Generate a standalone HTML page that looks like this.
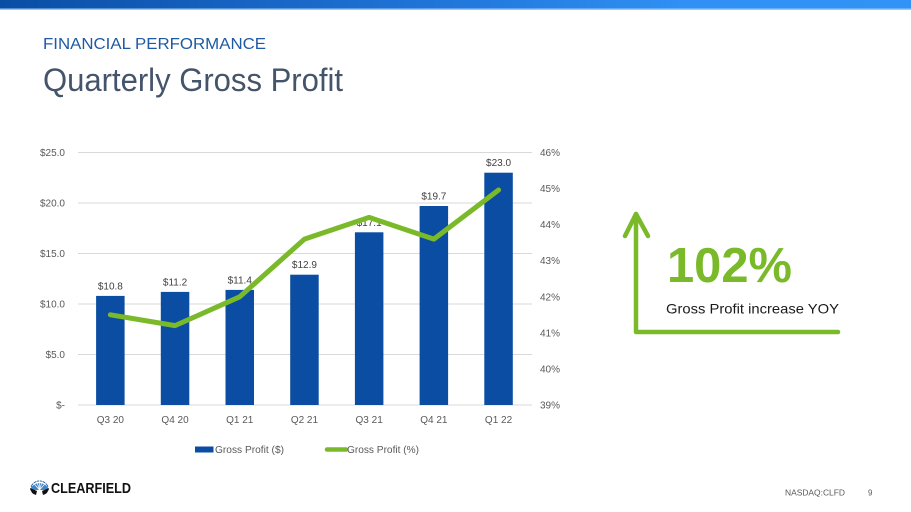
<!DOCTYPE html>
<html><head><meta charset="utf-8"><style>
html,body{margin:0;padding:0;background:#fff;}
svg{display:block;}
text{font-family:"Liberation Sans",Arial,sans-serif;}
</style></head><body>
<svg width="911" height="512" viewBox="0 0 911 512" xmlns="http://www.w3.org/2000/svg">
<defs>
<linearGradient id="tb" x1="0" x2="1" y1="0" y2="0">
<stop offset="0" stop-color="#0a4ea4"/>
<stop offset="0.45" stop-color="#1f72d6"/>
<stop offset="0.75" stop-color="#3090f5"/>
<stop offset="1" stop-color="#3192f7"/>
</linearGradient>
</defs>
<rect x="0" y="0" width="911" height="8.5" fill="url(#tb)"/>
<rect x="0" y="8.5" width="911" height="1.5" fill="#9ccbf2"/>

<text x="43" y="49" font-size="16" fill="#1f5aa6" textLength="223" lengthAdjust="spacingAndGlyphs">FINANCIAL PERFORMANCE</text>
<text x="43" y="91" font-size="32" fill="#44546a" textLength="300" lengthAdjust="spacingAndGlyphs">Quarterly Gross Profit</text>

<!-- gridlines -->
<g stroke="#d9d9d9" stroke-width="1">
<line x1="78" x2="532" y1="152.5" y2="152.5"/>
<line x1="78" x2="532" y1="203" y2="203"/>
<line x1="78" x2="532" y1="253.5" y2="253.5"/>
<line x1="78" x2="532" y1="304" y2="304"/>
<line x1="78" x2="532" y1="354.5" y2="354.5"/>
<line x1="78" x2="532" y1="405" y2="405"/>
</g>

<!-- left axis labels -->
<g font-size="10" fill="#595959" text-anchor="end">
<text x="65" y="156">$25.0</text>
<text x="65" y="206.5">$20.0</text>
<text x="65" y="257">$15.0</text>
<text x="65" y="307.5">$10.0</text>
<text x="65" y="358">$5.0</text>
<text x="65" y="408.5">$-</text>
</g>
<!-- right axis labels -->
<g font-size="10" fill="#595959">
<text x="540" y="156">46%</text>
<text x="540" y="192">45%</text>
<text x="540" y="228">44%</text>
<text x="540" y="264.2">43%</text>
<text x="540" y="300.3">42%</text>
<text x="540" y="336.4">41%</text>
<text x="540" y="372.4">40%</text>
<text x="540" y="408.5">39%</text>
</g>

<!-- bars -->
<g fill="#0b4da2">
<rect x="96.1" y="295.9" width="28.5" height="109.1"/>
<rect x="160.8" y="291.9" width="28.5" height="113.1"/>
<rect x="225.5" y="289.9" width="28.5" height="115.1"/>
<rect x="290.2" y="274.7" width="28.5" height="130.3"/>
<rect x="354.9" y="232.3" width="28.5" height="172.7"/>
<rect x="419.6" y="206.0" width="28.5" height="199.0"/>
<rect x="484.3" y="172.7" width="28.5" height="232.3"/>
</g>

<!-- data labels -->
<g font-size="10" fill="#404040" text-anchor="middle">
<text x="110.35" y="289.4">$10.8</text>
<text x="175.05" y="285.4">$11.2</text>
<text x="239.75" y="283.4">$11.4</text>
<text x="304.45" y="268.2">$12.9</text>
<text x="369.15" y="225.8">$17.1</text>
<text x="433.85" y="199.5">$19.7</text>
<text x="498.55" y="166.2">$23.0</text>
</g>

<!-- line -->
<polyline points="110.35,314.8 175.05,325.6 239.75,296.8 304.45,239.1 369.15,217.4 433.85,239.1 498.55,190" fill="none" stroke="#7ab929" stroke-width="5" stroke-linejoin="round" stroke-linecap="round"/>

<!-- x labels -->
<g font-size="10" fill="#595959" text-anchor="middle">
<text x="110.35" y="423">Q3 20</text>
<text x="175.05" y="423">Q4 20</text>
<text x="239.75" y="423">Q1 21</text>
<text x="304.45" y="423">Q2 21</text>
<text x="369.15" y="423">Q3 21</text>
<text x="433.85" y="423">Q4 21</text>
<text x="498.55" y="423">Q1 22</text>
</g>

<!-- legend -->
<rect x="195" y="446.5" width="18.5" height="6" fill="#0b4da2"/>
<text x="215" y="453" font-size="10" fill="#595959" textLength="69" lengthAdjust="spacingAndGlyphs">Gross Profit ($)</text>
<line x1="327" y1="449.5" x2="346" y2="449.5" stroke="#7ab929" stroke-width="4.5" stroke-linecap="round"/>
<text x="347" y="453" font-size="10" fill="#595959" textLength="72" lengthAdjust="spacingAndGlyphs">Gross Profit (%)</text>

<!-- arrow graphic -->
<g stroke="#7ab929" stroke-width="4.5" fill="none" stroke-linecap="round" stroke-linejoin="round">
<polyline points="636,214 636,332 838,332"/>
<polyline points="625,236 636,214 648,236"/>
</g>
<text x="667" y="282" font-size="49" font-weight="bold" fill="#7ab929" textLength="125" lengthAdjust="spacingAndGlyphs">102%</text>
<text x="666" y="313.5" font-size="14" fill="#1a1a1a" textLength="173" lengthAdjust="spacingAndGlyphs">Gross Profit increase YOY</text>

<!-- logo -->
<g>
<path d="M30,490 A10,10 0 0 1 49,490 Z" fill="#3f86c8"/>
<path d="M31,487 A9,9 0 0 1 48,487" fill="none" stroke="#1f5a9a" stroke-width="0.8"/>
<g stroke="#ffffff" stroke-width="0.7">
<line x1="39.5" y1="490" x2="33" y2="482.5"/>
<line x1="39.5" y1="490" x2="36.5" y2="480.5"/>
<line x1="39.5" y1="490" x2="39.5" y2="480"/>
<line x1="39.5" y1="490" x2="42.5" y2="480.5"/>
<line x1="39.5" y1="490" x2="46" y2="482.5"/>
</g>
<path d="M30,488 L37,491 L36,495 Q31,494 30,488 Z" fill="#111"/>
<path d="M49,488 L42,491 L43,495 Q48,494 49,488 Z" fill="#111"/>
<text x="51" y="493" font-size="15" font-weight="bold" fill="#111" textLength="80" lengthAdjust="spacingAndGlyphs">CLEARFIELD</text>
</g>

<!-- footer -->
<text x="785" y="495.5" font-size="8" fill="#595959" textLength="60" lengthAdjust="spacingAndGlyphs">NASDAQ:CLFD</text>
<text x="868" y="495.5" font-size="8" fill="#595959">9</text>
</svg>
</body></html>
